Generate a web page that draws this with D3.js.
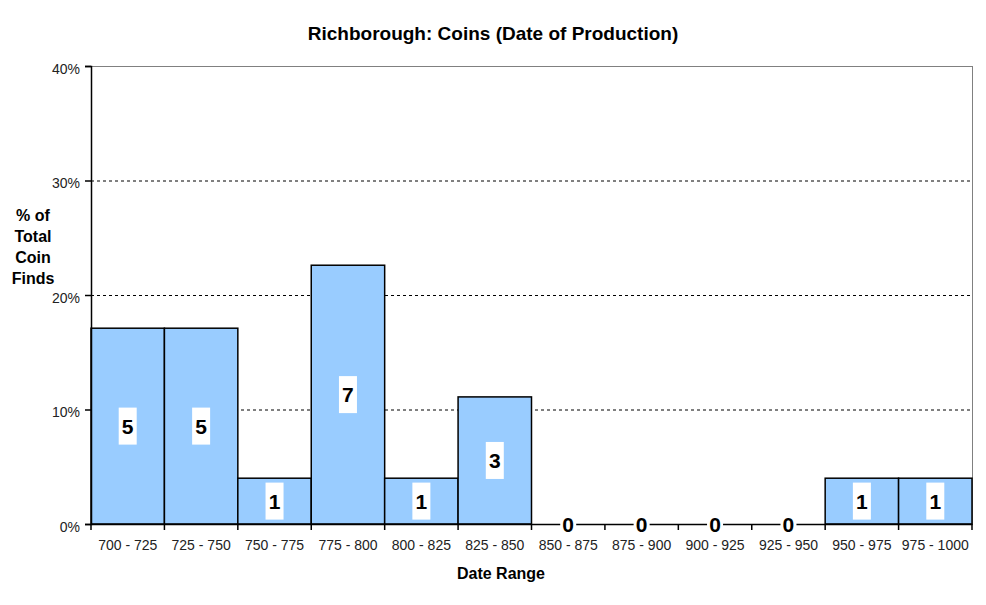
<!DOCTYPE html>
<html><head><meta charset="utf-8">
<script src="https://cdn.jsdelivr.net/npm/d3@7"></script>
<style>body{margin:0;background:#fff;}svg{display:block;font-family:"Liberation Sans",Arial,sans-serif;}</style>
</head><body>
<script>
const categories = ["700 - 725","725 - 750","750 - 775","775 - 800","800 - 825","825 - 850","850 - 875","875 - 900","900 - 925","925 - 950","950 - 975","975 - 1000"];
const percents = [17.1,17.1,4.0,22.6,4.0,11.1,0,0,0,0,4.0,4.0];
const counts = [5,5,1,7,1,3,0,0,0,0,1,1];
const yTicks = [0,10,20,30,40];

const W=986,H=605;
const m={left:91,right:14,top:66,bottom:81};
const svg=d3.select("body").append("svg").attr("width",W).attr("height",H);
const x=d3.scaleBand().domain(categories).range([m.left,W-m.right]).padding(0);
const y=d3.scaleLinear().domain([0,40]).range([H-m.bottom,m.top]);

// gridlines
svg.append("g").selectAll("line").data(yTicks.filter(d=>d>0&&d<40)).join("line")
 .attr("x1",m.left).attr("x2",W-m.right).attr("y1",d=>y(d)+0.5).attr("y2",d=>y(d)+0.5)
 .attr("stroke","#000").attr("stroke-width",1).attr("stroke-dasharray","3,3");
// frame top/right
svg.append("line").attr("x1",m.left).attr("x2",W-m.right).attr("y1",y(40)+0.5).attr("y2",y(40)+0.5).attr("stroke","#808080");
svg.append("line").attr("x1",W-m.right+0.5).attr("x2",W-m.right+0.5).attr("y1",y(40)).attr("y2",y(0)).attr("stroke","#808080");

// bars
svg.append("g").selectAll("rect").data(categories).join("rect")
 .attr("x",d=>x(d)).attr("width",x.bandwidth())
 .attr("y",(d,i)=>y(percents[i])).attr("height",(d,i)=>y(0)-y(percents[i]))
 .attr("fill","#99CCFF").attr("stroke","#000").attr("stroke-width",1.5)
 .style("display",(d,i)=>percents[i]>0?null:"none");

// x axis
const xa=svg.append("g").attr("transform",`translate(0,${y(0)})`)
 .call(d3.axisBottom(x).tickSize(0).tickPadding(16));
xa.select(".domain").attr("stroke","#000").attr("stroke-width",1.5);
xa.selectAll("text").attr("font-size",14).attr("fill","#222").attr("font-family","Liberation Sans, Arial, sans-serif");
// boundary ticks
const bounds=categories.map(c=>x(c)).concat([x(categories[categories.length-1])+x.bandwidth()]);
svg.append("g").selectAll("line").data(bounds).join("line")
 .attr("x1",d=>d).attr("x2",d=>d).attr("y1",y(0)).attr("y2",y(0)+6).attr("stroke","#000").attr("stroke-width",1.5);

// y axis
const ya=svg.append("g").attr("transform",`translate(${m.left},0)`)
 .call(d3.axisLeft(y).tickValues(yTicks).tickFormat(d=>d+"%").tickSize(6).tickPadding(5));
ya.select(".domain").attr("stroke","#000").attr("stroke-width",1.5);
ya.selectAll(".tick line").attr("stroke","#000").attr("stroke-width",1.5);
ya.selectAll("text").attr("font-size",14).attr("fill","#222").attr("font-family","Liberation Sans, Arial, sans-serif").attr("dy","0.5em");

// data labels
const lg=svg.append("g").selectAll("g").data(categories).join("g")
 .attr("transform",(d,i)=>`translate(${x(d)+x.bandwidth()/2},${(y(percents[i])+y(0))/2})`);
lg.append("rect").attr("x",d=>-9).attr("y",-18.5).attr("width",18).attr("height",37).attr("fill","#fff")
 .each(function(d,i){ if(percents[i]===0){d3.select(this).attr("x",-8).attr("width",16).attr("y",-12).attr("height",24);} });
lg.append("text").attr("text-anchor","middle").attr("dy","0.36em").attr("font-size",21).attr("font-weight","bold")
 .attr("fill","#000").text((d,i)=>counts[i]);

// titles
svg.append("text").attr("x",493).attr("y",40).attr("text-anchor","middle").attr("font-size",19).attr("font-weight","bold").text("Richborough: Coins (Date of Production)");
svg.append("text").attr("x",501).attr("y",579).attr("text-anchor","middle").attr("font-size",16).attr("font-weight","bold").text("Date Range");
const yl=svg.append("text").attr("text-anchor","middle").attr("font-size",16).attr("font-weight","bold");
["% of","Total","Coin","Finds"].forEach((t,i)=>yl.append("tspan").attr("x",33).attr("y",221+i*21).text(t));
</script>
</body></html>
